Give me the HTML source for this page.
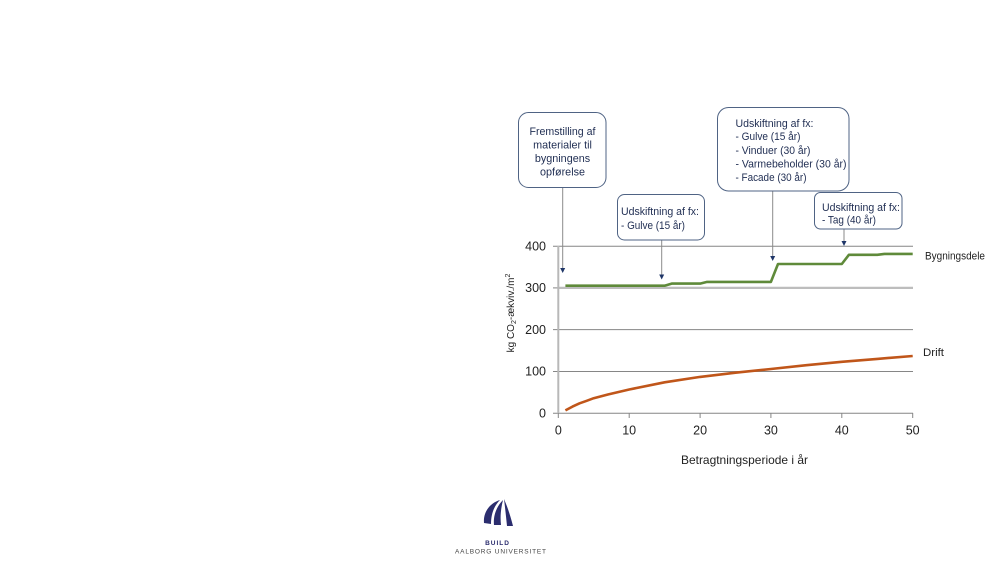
<!DOCTYPE html>
<html><head><meta charset="utf-8"><style>
html,body{margin:0;padding:0;background:#fff;}
svg{display:block;}
text{font-family:"Liberation Sans",sans-serif;}
</style></head><body>
<svg width="1000" height="563" viewBox="0 0 1000 563" xmlns="http://www.w3.org/2000/svg">
<rect width="1000" height="563" fill="#fff"/>
<!-- gridlines -->
<g stroke="#868686" stroke-width="1">
<line x1="553" y1="246.3" x2="913" y2="246.3"/>
<line x1="553" y1="329.6" x2="913" y2="329.6"/>
<line x1="553" y1="371.5" x2="913" y2="371.5"/>
<line x1="553" y1="413.3" x2="913" y2="413.3"/>
<line x1="553" y1="287.9" x2="558" y2="287.9"/>
</g>
<line x1="558" y1="287.9" x2="913" y2="287.9" stroke="#bdbdbd" stroke-width="2.2"/>
<line x1="558.3" y1="246" x2="558.3" y2="413.3" stroke="#b8b8b8" stroke-width="2"/>
<g stroke="#868686" stroke-width="1">
<line x1="558.3" y1="413" x2="558.3" y2="418"/>
<line x1="629.2" y1="413" x2="629.2" y2="418"/>
<line x1="700.1" y1="413" x2="700.1" y2="418"/>
<line x1="770.9" y1="413" x2="770.9" y2="418"/>
<line x1="841.8" y1="413" x2="841.8" y2="418"/>
<line x1="912.7" y1="413" x2="912.7" y2="418"/>
</g>
<!-- tick labels -->
<g font-size="12.5" fill="#222" text-anchor="end">
<text x="546" y="250.5">400</text>
<text x="546" y="292">300</text>
<text x="546" y="333.8">200</text>
<text x="546" y="375.7">100</text>
<text x="546" y="417.5">0</text>
</g>
<g font-size="12.5" fill="#222" text-anchor="middle">
<text x="558.3" y="434.5">0</text>
<text x="629.2" y="434.5">10</text>
<text x="700.1" y="434.5">20</text>
<text x="770.9" y="434.5">30</text>
<text x="841.8" y="434.5">40</text>
<text x="912.7" y="434.5">50</text>
</g>
<text x="744.5" y="464" font-size="12" fill="#222" text-anchor="middle" textLength="127" lengthAdjust="spacingAndGlyphs">Betragtningsperiode i år</text>
<text transform="translate(514,313) rotate(-90)" font-size="10" fill="#222" text-anchor="middle">kg CO<tspan font-size="7" dy="2">2</tspan><tspan dy="-2">-ækviv./m</tspan><tspan font-size="7" dy="-4">2</tspan></text>
<!-- series -->
<polyline fill="none" stroke="#5f8a3a" stroke-width="2.6" stroke-linejoin="round" points="565.4,285.7 664.6,285.7 671.7,283.6 700.1,283.6 707.1,281.9 770.9,281.9 778,264 841.8,264 848.9,254.8 877.3,254.8 884.4,253.9 912.7,253.9"/>
<polyline fill="none" stroke="#c0561a" stroke-width="2.6" stroke-linejoin="round" points="565.4,410.4 572.5,406.6 579.6,403.3 586.7,400.8 593.7,398.2 607.9,394.5 629.2,389.5 664.6,382.3 700.1,376.9 735.5,372.7 770.9,369 806.4,365.2 841.8,361.8 877.3,358.9 912.7,356"/>
<text x="925" y="259.5" font-size="11" fill="#222" textLength="60" lengthAdjust="spacingAndGlyphs">Bygningsdele</text>
<text x="923" y="356" font-size="11" fill="#222" textLength="21" lengthAdjust="spacingAndGlyphs">Drift</text>
<!-- connectors -->
<g stroke="#8a8a8a" stroke-width="1">
<line x1="562.7" y1="187" x2="562.7" y2="268"/>
<line x1="661.7" y1="240" x2="661.7" y2="275"/>
<line x1="772.7" y1="191" x2="772.7" y2="257"/>
<line x1="844" y1="229" x2="844" y2="242"/>
</g>
<g fill="#1f3668">
<polygon points="560.2,268 565.2,268 562.7,273"/>
<polygon points="659.2,274.5 664.2,274.5 661.7,279.5"/>
<polygon points="770.2,256 775.2,256 772.7,261"/>
<polygon points="841.5,241 846.5,241 844,246"/>
</g>
<!-- boxes -->
<g fill="#fff" stroke="#4f6384" stroke-width="1">
<rect x="518.5" y="112.5" width="87.5" height="75" rx="10"/>
<rect x="617.5" y="194.5" width="87" height="45.5" rx="7"/>
<rect x="717.5" y="107.5" width="131.5" height="83.5" rx="11"/>
<rect x="814.5" y="192.5" width="87.5" height="36.5" rx="6"/>
</g>
<g font-size="11" fill="#1f2d52">
<g text-anchor="middle" font-size="10.8">
<text x="562.5" y="135" textLength="66" lengthAdjust="spacingAndGlyphs">Fremstilling af</text>
<text x="562.5" y="148.7">materialer til</text>
<text x="562.5" y="162.2">bygningens</text>
<text x="562.5" y="175.7">opførelse</text>
</g>
<text x="621" y="215" textLength="78" lengthAdjust="spacingAndGlyphs">Udskiftning af fx:</text>
<text x="621" y="229" textLength="64" lengthAdjust="spacingAndGlyphs">- Gulve (15 år)</text>
<text x="735.5" y="127" textLength="78" lengthAdjust="spacingAndGlyphs">Udskiftning af fx:</text>
<text x="735.5" y="140" textLength="65" lengthAdjust="spacingAndGlyphs">- Gulve (15 år)</text>
<text x="735.5" y="153.8" textLength="75" lengthAdjust="spacingAndGlyphs">- Vinduer (30 år)</text>
<text x="735.5" y="167.3" textLength="111" lengthAdjust="spacingAndGlyphs">- Varmebeholder  (30 år)</text>
<text x="735.5" y="181" textLength="71" lengthAdjust="spacingAndGlyphs">- Facade (30 år)</text>
<text x="822" y="211" textLength="78" lengthAdjust="spacingAndGlyphs">Udskiftning af fx:</text>
<text x="822" y="223.3" textLength="54" lengthAdjust="spacingAndGlyphs">- Tag (40 år)</text>
</g>
<!-- logo -->
<g fill="#2b2d6e">
<path d="M484,523 C483,512 490,503 500,500 C494,506 491,514 491,524 Z"/>
<path d="M494,525 C493,515 497,506 503,500 C501,508 500,516 501,525 Z"/>
<path d="M504,499 C507,506 510,514 513,526 L507,526 C506,516 505,507 504,499 Z"/>
</g>
<text x="497.5" y="545" font-size="6.5" font-weight="bold" fill="#2b2d6e" text-anchor="middle" letter-spacing="1">BUILD</text>
<text x="500.5" y="553.5" font-size="6.5" fill="#444" text-anchor="middle" textLength="91" lengthAdjust="spacing">AALBORG UNIVERSITET</text>
</svg>
</body></html>
